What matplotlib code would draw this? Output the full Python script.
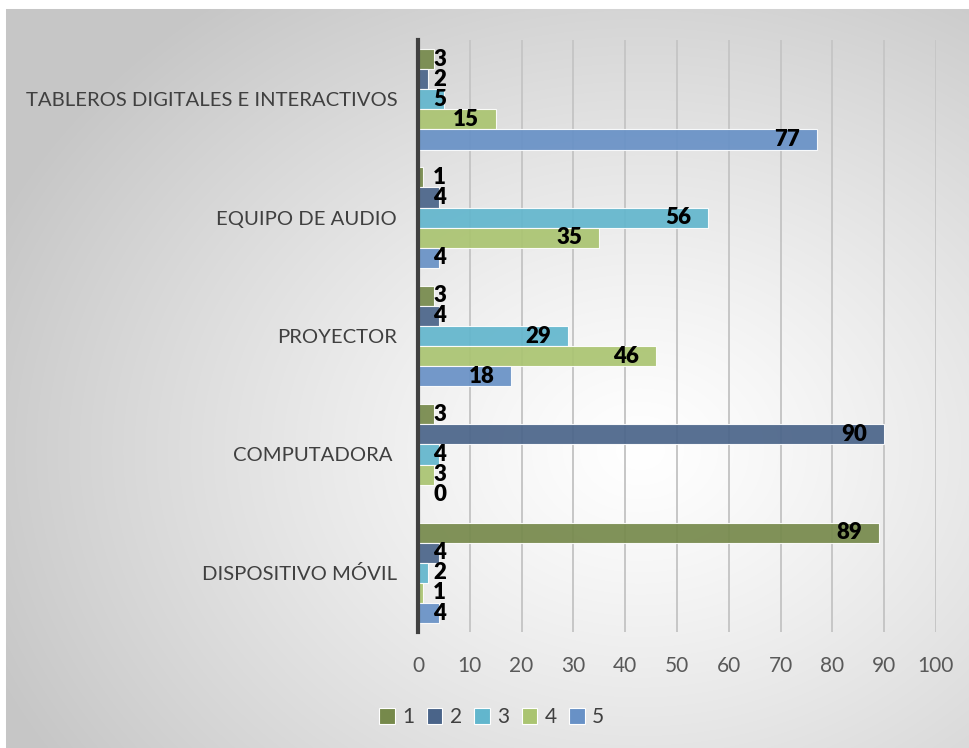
import numpy as np
import matplotlib
matplotlib.use("Agg")
from matplotlib import pyplot as plt
from matplotlib.patches import Patch

categorias = ["DISPOSITIVO MÓVIL", "COMPUTADORA ", "PROYECTOR",
              "EQUIPO DE AUDIO", "TABLEROS DIGITALES E INTERACTIVOS"]
series = ["1", "2", "3", "4", "5"]
# valores por serie, en el orden de categorias (de abajo hacia arriba)
v1 = [89, 3, 3, 1, 3]
v2 = [4, 90, 4, 4, 2]
v3 = [2, 4, 29, 56, 5]
v4 = [1, 3, 46, 35, 15]
v5 = [4, 0, 18, 4, 77]
valores = [v1, v2, v3, v4, v5]
colores = ["#76894B", "#4A6489", "#62B6CD", "#AAC471", "#6891C6"]

fuente = ["Lato", "DejaVu Sans"]

fig = plt.figure(figsize=(9.7, 7.48), dpi=100)

# fondo con degradado radial gris
bg = fig.add_axes([0, 0, 1, 1], zorder=-10)
W, H = 970, 748
xx, yy = np.meshgrid(np.arange(W), np.arange(H))
r = np.hypot((xx - 640) / 700.0, (yy - 450) / 560.0)
gris = 1.0 - 0.22 * np.clip(r, 0, 1) ** 1.2
img = np.dstack([gris, gris, gris])
img[:9, :, :] = 1.0
img[:, :6, :] = 1.0
bg.imshow(img, extent=[0, 1, 0, 1], aspect="auto", origin="upper")
bg.axis("off")

ax = fig.add_axes([0.4309, 0.155, 0.534, 0.7914])
ax.patch.set_alpha(0)

y = np.arange(len(categorias))
h = 0.17
for i, vals in enumerate(valores):
    pos = y + (2 - i) * h
    ax.barh(pos, vals, height=h, color=colores[i], alpha=0.92,
            edgecolor="#FFFFFF", linewidth=0.8, zorder=3)
    for p, v in zip(pos, vals):
        ax.annotate(str(v), xy=(max(v, 8.7), p), xytext=(-17, 0),
                    textcoords="offset pixels", ha="right", va="center",
                    fontsize=16, fontweight="heavy", color="black",
                    family=fuente, zorder=4)

ax.set_xlim(0, 100)
ax.set_ylim(-0.5, 4.5)
ax.set_xticks(range(0, 101, 10))
ax.set_yticks(y)
ax.set_yticklabels(categorias, family=fuente, fontsize=14.6, color="#404040")
ax.tick_params(axis="x", length=0, pad=17, labelsize=15, labelcolor="#595959")
ax.tick_params(axis="y", length=0, pad=15)
for t in ax.get_xticklabels():
    t.set_family(fuente)
ax.grid(axis="x", color="#C6C6C6", linewidth=1.4, zorder=0)
ax.set_axisbelow(True)
for s in ["top", "right", "bottom"]:
    ax.spines[s].set_visible(False)
ax.spines["left"].set_color("#404040")
ax.spines["left"].set_linewidth(3)
ax.spines["left"].set_zorder(5)

handles = [Patch(facecolor=c, edgecolor="#FFFFFF", linewidth=0.8) for c in colores]
fig.legend(handles, series, loc="center", bbox_to_anchor=(0.507, 0.041),
           ncol=5, frameon=False, handlelength=0.75, handleheight=0.75,
           handletextpad=0.35, columnspacing=0.6,
           prop={"family": fuente, "size": 15}, labelcolor="#404040")

fig.savefig("out.png", dpi=100)
